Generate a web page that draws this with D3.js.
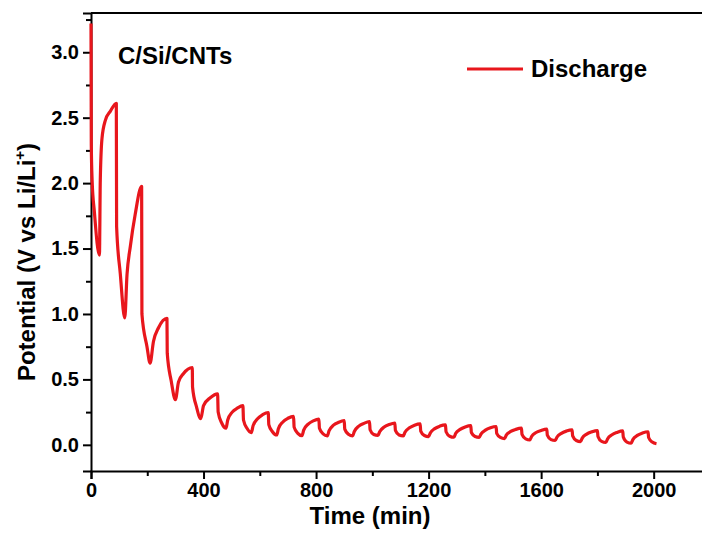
<!DOCTYPE html>
<html>
<head>
<meta charset="utf-8">
<script src="https://cdnjs.cloudflare.com/ajax/libs/d3/7.8.5/d3.min.js"></script>
<style>
  body { margin: 0; background: #fff; }
  svg { display: block; font-family: "Liberation Sans", Arial, sans-serif; font-weight: bold; }
</style>
</head>
<body>
<svg></svg>
<script>
// time (min) and potential (V)
let timeMin = [
  0, 1, 4, 12, 30, 33, 39, 51, 69, 90,
  91, 104, 120, 128, 140, 157, 180,
  181, 199, 210, 222, 240, 270,
  271, 285, 300, 311, 329, 360,
  361, 375, 390, 400, 424, 450,
  452, 465, 480, 486, 502, 520, 540,
  542, 555, 570, 576, 592, 610, 630,
  632, 645, 660, 666, 682, 700, 720,
  722, 735, 750, 756, 772, 790, 810,
  812, 825, 840, 846, 862, 880, 900,
  902, 915, 930, 936, 952, 970, 990,
  992, 1005, 1020, 1026, 1042, 1060, 1080,
  1082, 1095, 1110, 1116, 1132, 1150, 1170,
  1172, 1185, 1200, 1206, 1222, 1240, 1260,
  1262, 1275, 1290, 1296, 1312, 1330, 1350,
  1352, 1365, 1380, 1386, 1402, 1420, 1440,
  1442, 1455, 1470, 1476, 1492, 1510, 1530,
  1532, 1545, 1560, 1566, 1582, 1600, 1620,
  1622, 1635, 1650, 1656, 1672, 1690, 1710,
  1712, 1725, 1740, 1746, 1762, 1780, 1800,
  1802, 1815, 1830, 1836, 1852, 1870, 1890,
  1892, 1905, 1920, 1926, 1942, 1960, 1980,
  1982, 1995, 2010
];
let potential = [
  3.22, 2.30, 2.02, 1.78, 1.45, 2.02, 2.34, 2.48, 2.55, 2.61,
  1.67, 1.31, 0.97, 1.30, 1.52, 1.76, 1.975,
  1.00, 0.75, 0.625, 0.79, 0.895, 0.966,
  0.70, 0.49, 0.345, 0.48, 0.545, 0.59,
  0.44, 0.29, 0.20, 0.30, 0.36, 0.39,
  0.25, 0.165, 0.127, 0.19, 0.25, 0.28, 0.30,
  0.19, 0.125, 0.094, 0.145, 0.20, 0.23, 0.247,
  0.155, 0.10, 0.075, 0.122, 0.175, 0.203, 0.218,
  0.135, 0.088, 0.070, 0.112, 0.158, 0.183, 0.197,
  0.126, 0.084, 0.069, 0.106, 0.15, 0.172, 0.185,
  0.12, 0.081, 0.069, 0.102, 0.143, 0.164, 0.177,
  0.115, 0.079, 0.072, 0.10, 0.136, 0.155, 0.166,
  0.11, 0.075, 0.068, 0.096, 0.13, 0.15, 0.16,
  0.105, 0.071, 0.063, 0.091, 0.124, 0.143, 0.153,
  0.10, 0.066, 0.058, 0.086, 0.118, 0.137, 0.147,
  0.094, 0.064, 0.057, 0.082, 0.112, 0.13, 0.14,
  0.088, 0.057, 0.048, 0.074, 0.102, 0.118, 0.127,
  0.08, 0.046, 0.038, 0.064, 0.094, 0.11, 0.12,
  0.074, 0.04, 0.033, 0.058, 0.088, 0.105, 0.114,
  0.068, 0.033, 0.025, 0.051, 0.082, 0.099, 0.109,
  0.064, 0.026, 0.018, 0.045, 0.077, 0.095, 0.106,
  0.06, 0.021, 0.013, 0.04, 0.072, 0.09, 0.10,
  0.056, 0.021, 0.008
];

let xTicks = [0, 400, 800, 1200, 1600, 2000];
let xMinor = [200, 600, 1000, 1400, 1800];
let yTicks = [0.0, 0.5, 1.0, 1.5, 2.0, 2.5, 3.0];
let yMinor = [0.25, 0.75, 1.25, 1.75, 2.25, 2.75, 3.25];

let width = 702, height = 533;
let margin = {top: 13, right: -4, bottom: 62, left: 91};
let red = "#e8161c";

let svg = d3.select("svg")
    .attr("width", width)
    .attr("height", height);

let scale = {
  x: d3.scaleLinear().domain([0, 2186]).range([margin.left, width - margin.right]),
  y: d3.scaleLinear().domain([-0.2, 3.3]).range([height - margin.bottom, margin.top])
};

let data = timeMin.map((t, i) => ({t: t, v: potential[i]}));

// axes: major ticks with labels, minor ticks without
svg.append("g")
    .attr("transform", "translate(0," + scale.y(-0.2) + ")")
    .call(d3.axisBottom(scale.x).tickValues(xTicks).tickSize(8).tickPadding(4).tickFormat(d3.format("d")));
svg.append("g")
    .attr("transform", "translate(0," + scale.y(-0.2) + ")")
    .call(d3.axisBottom(scale.x).tickValues(xMinor).tickSize(5).tickFormat(""))
    .select(".domain").remove();

svg.append("g")
    .attr("transform", "translate(" + margin.left + ",0)")
    .call(d3.axisLeft(scale.y).tickValues(yTicks).tickSize(8).tickPadding(4).tickFormat(d3.format(".1f")));
svg.append("g")
    .attr("transform", "translate(" + margin.left + ",0)")
    .call(d3.axisLeft(scale.y).tickValues(yMinor).tickSize(5).tickFormat(""))
    .select(".domain").remove();

svg.selectAll(".domain").attr("stroke-width", 2);
svg.selectAll(".tick line").attr("stroke-width", 2);
svg.selectAll(".tick text")
    .attr("font-family", "Liberation Sans, Arial, sans-serif")
    .attr("font-weight", "bold")
    .attr("font-size", 20)
    .attr("fill", "#000");

// top frame line
svg.append("line")
    .attr("x1", margin.left).attr("x2", width + 4)
    .attr("y1", scale.y(3.3)).attr("y2", scale.y(3.3))
    .attr("stroke", "#000")
    .attr("stroke-width", 2);

let line = d3.line()
    .x(d => scale.x(d.t))
    .y(d => scale.y(d.v))
    .curve(d3.curveMonotoneX);

svg.append("path")
    .datum(data)
    .attr("fill", "none")
    .attr("stroke", red)
    .attr("stroke-width", 3.2)
    .attr("stroke-linejoin", "round")
    .attr("d", line);

// titles
svg.append("text")
    .attr("x", 370)
    .attr("y", 524)
    .attr("text-anchor", "middle")
    .attr("font-size", 24)
    .text("Time (min)");

let yl = svg.append("text")
    .attr("transform", "translate(35,262) rotate(-90)")
    .attr("text-anchor", "middle")
    .attr("font-size", 24);
yl.append("tspan").text("Potential (V vs Li/Li");
yl.append("tspan").attr("font-size", 15).attr("dy", -10).text("+");
yl.append("tspan").attr("dy", 10).text(")");

svg.append("text")
    .attr("x", 118)
    .attr("y", 64)
    .attr("font-size", 24)
    .text("C/Si/CNTs");

// legend
svg.append("line")
    .attr("x1", 467).attr("x2", 523)
    .attr("y1", 69).attr("y2", 69)
    .attr("stroke", red)
    .attr("stroke-width", 3);
svg.append("text")
    .attr("x", 531)
    .attr("y", 77)
    .attr("font-size", 24)
    .text("Discharge");
</script>
</body>
</html>
